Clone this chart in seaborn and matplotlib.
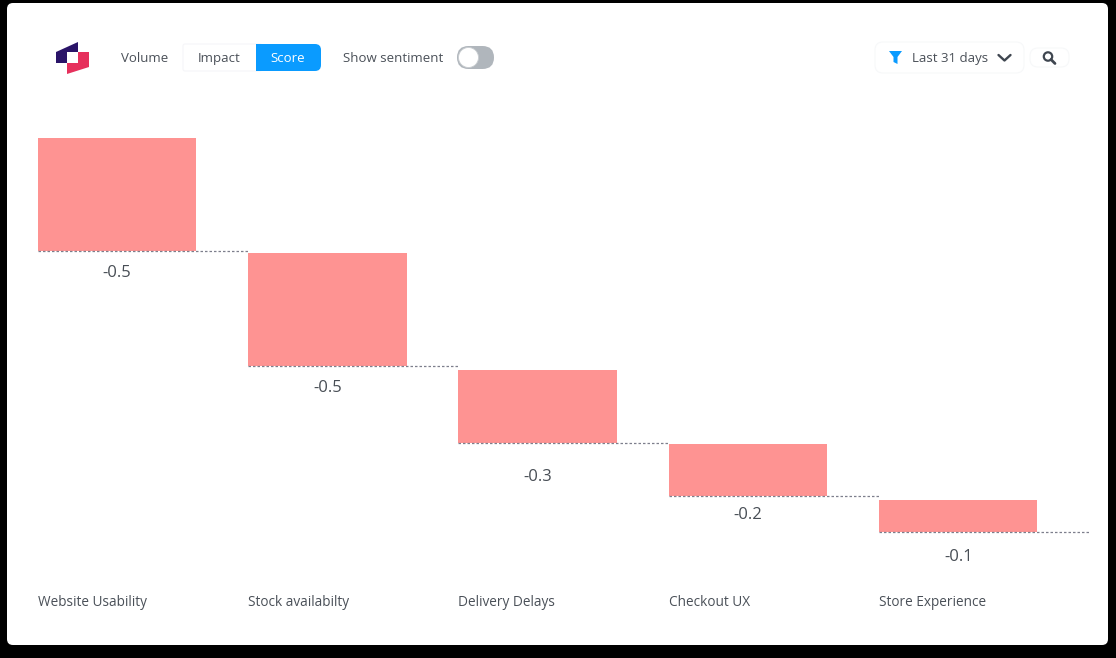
import matplotlib
matplotlib.use("Agg")
import matplotlib.pyplot as plt
import seaborn as sns
from matplotlib.patches import FancyBboxPatch, Polygon, Circle, Rectangle

# Chart values
topics = ["Website Usability", "Stock availabilty", "Delivery Delays", "Checkout UX", "Store Experience"]
score_labels = ["-0.5", "-0.5", "-0.3", "-0.2", "-0.1"]
bar_heights = [-0.500, -0.500, -0.323, -0.230, -0.142]
bar_tops = [0.0, -0.509, -1.027, -1.354, -1.602]

BAR_COLOR = "#fe9392"
TEXT_COLOR = "#4a5058"
BLUE = "#0a9bff"

W, H = 1116, 658

sns.set_theme(style="white")
plt.rcParams["font.family"] = ["Open Sans", "DejaVu Sans"]

fig = plt.figure(figsize=(W / 100, H / 100), dpi=100, facecolor="black")

# ------------------------ page background and toolbar (pixel coordinates) ------------------------
ui = fig.add_axes([0, 0, 1, 1])
ui.set_xlim(0, W)
ui.set_ylim(H, 0)
ui.axis("off")


def rounded(x0, y0, x1, y1, r, **kw):
    ui.add_patch(FancyBboxPatch((x0 + r, y0 + r), x1 - x0 - 2 * r, y1 - y0 - 2 * r,
                                boxstyle=f"round,pad={r},rounding_size={r}", **kw))


rounded(7, 3, 1108, 645, 6, fc="white", ec="none")

# logo
ui.add_patch(Polygon([(56, 52), (78, 42), (78, 52), (67, 52), (67, 63), (56, 63)], fc="#2a1468", ec="none"))
ui.add_patch(Polygon([(67, 63), (78, 63), (78, 52), (89, 52), (89, 67), (67, 74)], fc="#e6305c", ec="none"))

# view switch
rounded(183, 44, 262, 71, 2, fc="white", ec="#f5f6f8", lw=0.8)
rounded(262, 44, 321, 71, 6, fc=BLUE, ec="none")
ui.add_patch(Rectangle((256, 44), 14, 27, fc=BLUE, ec="none"))
ui.text(144.5, 58.8, "Volume", fontsize=9.5, color=TEXT_COLOR, ha="center", va="center")
ui.text(219, 58.8, "Impact", fontsize=9.5, color=TEXT_COLOR, ha="center", va="center")
ui.text(288, 58.8, "Score", fontsize=9.5, color="white", ha="center", va="center")

# sentiment toggle
ui.text(393, 58.8, "Show sentiment", fontsize=9.5, color=TEXT_COLOR, ha="center", va="center")
rounded(457, 46, 494, 69, 11.5, fc="#b0b6bc", ec="none")
ui.add_patch(Circle((468.5, 57.5), 10, fc="white", ec="#c8ccd0", lw=0.6))

# date filter
rounded(875, 42, 1024, 73, 8, fc="white", ec="#f7f8f9", lw=0.8)
ui.add_patch(Polygon([(889, 51), (902, 51), (897.5, 57), (897.5, 64), (893.5, 62), (893.5, 57)], fc=BLUE, ec="none"))
ui.text(950.5, 58.8, "Last 31 days", fontsize=9.5, color=TEXT_COLOR, ha="center", va="center")
ui.plot([998.5, 1004.5, 1010.5], [55, 60.5, 55], color="#3f4650", lw=1.7, solid_capstyle="round")

# search
rounded(1030, 48, 1069, 67, 8, fc="white", ec="#f7f8f9", lw=0.8)
ui.add_patch(Circle((1048, 56.5), 4.2, fc="none", ec="#3f4650", lw=1.6))
ui.plot([1051, 1055], [59.5, 63.5], color="#3f4650", lw=2, solid_capstyle="round")

# ------------------------------------------ waterfall --------------------------------------------
# axes box in pixels, limits chosen so one score unit is 226 px and one category step 210.25 px
AX_L, AX_R, AX_T, AX_B = 38, 1092, 120, 586
STEP, BAR_W, UNIT = 210.25, 158.5, 226
center0 = AX_L + BAR_W / 2
ax = fig.add_axes([AX_L / W, 1 - AX_B / H, (AX_R - AX_L) / W, (AX_B - AX_T) / H])
ax.patch.set_alpha(0)

sns.barplot(x=topics, y=bar_heights, bottom=bar_tops, color=BAR_COLOR, saturation=1,
            width=BAR_W / STEP, linewidth=0, ax=ax)

ax.set_xlim((AX_L - center0) / STEP, (AX_R - center0) / STEP)
ax.set_ylim(-(AX_B - 138) / UNIT, -(AX_T - 138) / UNIT)

half = BAR_W / STEP / 2
label_gaps = [22, 22, 34, 19, 25]
for i, (top, h, txt, gap) in enumerate(zip(bar_tops, bar_heights, score_labels, label_gaps)):
    end = top + h
    x_end = i + 1 - half if i < len(topics) - 1 else (1090 - center0) / STEP
    ax.plot([i - half, x_end], [end, end], color="#7d7f8c", lw=0.9, ls=(0, (2, 1.6)))
    ax.annotate(txt, (i, end), xytext=(0, -gap * 0.72), textcoords="offset points",
                ha="center", va="center", fontsize=12, color="#484e55")

ax.set_xticks([i - half for i in range(len(topics))])
ax.set_xticklabels(topics, ha="left", fontsize=9.8, color=TEXT_COLOR)
ax.tick_params(axis="x", length=0, pad=6.3)
ax.set_yticks([])
ax.set_xlabel("")
ax.set_ylabel("")
sns.despine(ax=ax, left=True, bottom=True)

fig.savefig("out.png", dpi=100, facecolor="black")
